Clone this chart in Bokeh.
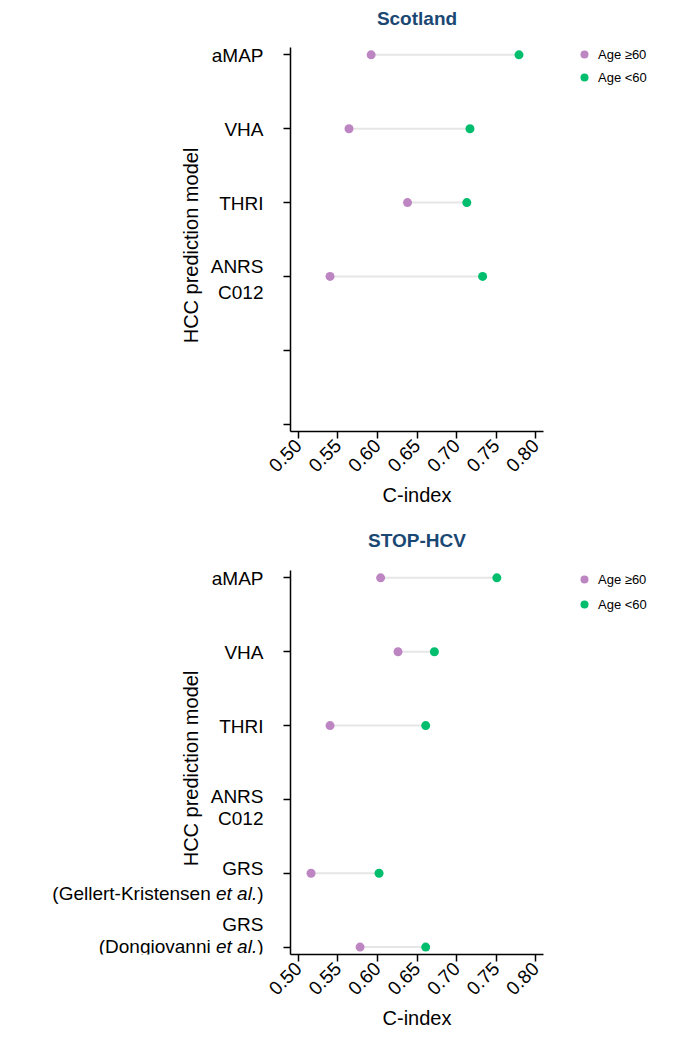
import math
from bokeh.plotting import figure
from bokeh.models import ColumnDataSource, Legend, LegendItem, FixedTicker, Range1d
from bokeh.layouts import column, row
from bokeh.embed import file_html
from bokeh.resources import INLINE

# ---------------- data ----------------
panel_titles = ["Scotland", "STOP-HCV"]

scot_models = ["aMAP", "VHA", "THRI", "ANRS\nC012", "", ""]
scot_age_ge60 = [0.592, 0.564, 0.638, 0.540, None, None]
scot_age_lt60 = [0.779, 0.717, 0.713, 0.733, None, None]

stop_models = ["aMAP", "VHA", "THRI", "ANRS\nC012",
               "GRS\n(Gellert-Kristensen et al.)", "GRS\n(Dongiovanni et al.)"]
stop_age_ge60 = [0.604, 0.626, 0.540, None, 0.516, 0.578]
stop_age_lt60 = [0.751, 0.672, 0.661, None, 0.602, 0.661]

x_ticks = [0.50, 0.55, 0.60, 0.65, 0.70, 0.75, 0.80]
x_tick_labels = ["0.50", "0.55", "0.60", "0.65", "0.70", "0.75", "0.80"]
legend_labels = ["Age \u226560", "Age <60"]
x_label = "C-index"
y_label = "HCC prediction model"

# ---------------- style / layout ----------------
FONT = "Liberation Sans"
PURPLE = "#BD86C3"
GREEN = "#00BE6E"
SEG = "#E6E6E6"
TITLE_COLOR = "#1A4873"
TICK_FS = 19
X0, X1 = 0.49, 0.81
PX_PER_CAT = 73.85          # vertical pixels per category step
WM_LEFT, FRAME_W, WM_RIGHT = 26, 253, 5
WL = 290 - WM_LEFT
WM = WM_LEFT + FRAME_W + WM_RIGHT
WR = 692 - WL - WM

CW = {")": 0.333, ".": 0.278, "e": 0.556, "t": 0.278, " ": 0.278, "a": 0.556, "l": 0.222}


def tw(s, size):
    return sum(CW.get(c, 0.556) for c in s) * size


def bare(width, height, x_range, y_range, bottom):
    p = figure(width=width, height=height, output_backend="svg", toolbar_location=None,
               title=None, x_axis_location=None, y_axis_location=None,
               x_range=x_range, y_range=y_range, min_border=0, min_border_bottom=bottom)
    p.outline_line_color = None
    p.xgrid.visible = False
    p.ygrid.visible = False
    return p


def make_row(title, labels, lo, hi, frame_h, bottom, line_dy, title_up, legend_top, legend_spacing):
    n = len(labels)
    y_lo, y_hi = -0.1, n - 1 + 0.1
    height = frame_h + bottom
    yr = Range1d(y_hi, y_hi - frame_h / PX_PER_CAT)   # frame reaches the top of the figure

    # ---- main plot ----
    m = figure(width=WM, height=height, output_backend="svg", toolbar_location=None,
               title=None, x_range=Range1d(X0, X1), y_range=yr, min_border=0,
               min_border_left=WM_LEFT, min_border_right=WM_RIGHT, min_border_bottom=bottom)
    m.outline_line_color = None
    m.xgrid.visible = False
    m.ygrid.visible = False
    rows = [i for i in range(n) if lo[i] is not None and hi[i] is not None]
    src = ColumnDataSource(dict(y=rows, lo=[lo[i] for i in rows], hi=[hi[i] for i in rows]))
    m.segment(x0="lo", y0="y", x1="hi", y1="y", source=src, line_color=SEG, line_width=2)
    m.scatter("lo", "y", source=src, size=9, fill_color=PURPLE, line_color=None)
    m.scatter("hi", "y", source=src, size=9, fill_color=GREEN, line_color=None)
    m.text(x=[(X0 + X1) / 2], y=[y_lo - title_up / PX_PER_CAT], text=[title],
           text_align="center", text_baseline="middle", text_font={"value": FONT},
           text_font_size="19px", text_font_style="bold", text_color=TITLE_COLOR)
    for ax in (m.xaxis[0], m.yaxis[0]):
        ax.axis_line_width = 1.5
        ax.axis_line_color = "black"
        ax.major_tick_line_width = 1.5
        ax.major_tick_line_color = "black"
        ax.major_tick_out = 7
        ax.major_tick_in = 0
        ax.minor_tick_out = 0
        ax.minor_tick_in = 0
        ax.major_label_text_font = FONT
        ax.major_label_text_font_size = f"{TICK_FS}px"
        ax.major_label_text_color = "black"
    m.xaxis.ticker = FixedTicker(ticks=x_ticks)
    m.xaxis.major_label_overrides = dict(zip(x_ticks, x_tick_labels))
    m.xaxis.major_label_orientation = math.pi / 4
    m.xaxis.major_label_standoff = 4
    m.xaxis.axis_label = x_label
    m.xaxis.axis_label_standoff = 3
    m.xaxis.axis_label_text_font = FONT
    m.xaxis.axis_label_text_font_size = "20px"
    m.xaxis.axis_label_text_font_style = "normal"
    m.xaxis.axis_label_text_color = "black"
    m.yaxis.ticker = FixedTicker(ticks=list(range(n)))
    m.yaxis.major_label_overrides = {i: "" for i in range(n)}
    m.yaxis.major_label_standoff = 0
    m.yaxis.bounds = (y_lo, y_hi)

    # ---- category labels + y-axis title (left strip) ----
    lf = bare(WL, height, Range1d(0, WL), yr, bottom)
    cols = dict(x=[], y=[], text=[], xo=[], style=[])
    for i, lab in enumerate(labels):
        if not lab:
            continue
        for j, line in enumerate(lab.split("\n")):
            ypos = i + line_dy[i][j] / PX_PER_CAT
            if "et al." in line:
                before, after = line.split("et al.")
                segs = [(before.rstrip(), "normal"), ("et al.", "italic"), (after, "normal")]
            else:
                segs = [(line, "normal")]
            shift = 0.0
            for k in range(len(segs) - 1, -1, -1):
                txt, style = segs[k]
                if txt:
                    cols["x"].append(WL - 1)
                    cols["y"].append(ypos)
                    cols["text"].append(txt)
                    cols["xo"].append(-shift)
                    cols["style"].append(style)
                shift += tw(txt, TICK_FS)
                if txt == "et al.":
                    shift += tw(" ", TICK_FS)
    lf.text(x="x", y="y", text="text", x_offset="xo", text_font_style="style",
            source=ColumnDataSource(cols), text_align="right", text_baseline="middle",
            text_font={"value": FONT}, text_font_size=f"{TICK_FS}px", text_color="black")
    lf.text(x=[190.7], y=[(y_lo + y_hi) / 2 + 6 / PX_PER_CAT], text=[y_label], angle=math.pi / 2,
            text_align="center", text_baseline="middle", text_font={"value": FONT},
            text_font_size="20px", text_color="black")

    # ---- legend strip: same series drawn against ranges that keep them out of view ----
    rf = bare(WR, height, Range1d(100, 100 + WR), Range1d(100, 100 + frame_h), bottom)
    g1 = rf.scatter("lo", "y", source=src, size=9, fill_color=PURPLE, line_color=None)
    g2 = rf.scatter("hi", "y", source=src, size=9, fill_color=GREEN, line_color=None)
    legend_h = 2 * 20 + legend_spacing
    legend = Legend(items=[LegendItem(label=legend_labels[0], renderers=[g1], index=0),
                           LegendItem(label=legend_labels[1], renderers=[g2], index=0)],
                    location=(584 - WL - WM - 10, frame_h - legend_top - legend_h))
    legend.glyph_width = 20
    legend.glyph_height = 20
    legend.label_height = 20
    legend.spacing = legend_spacing
    legend.padding = 0
    legend.margin = 0
    legend.label_standoff = 4
    legend.border_line_color = None
    legend.background_fill_alpha = 0
    legend.label_text_font = FONT
    legend.label_text_font_size = "13px"
    legend.label_text_color = "black"
    rf.add_layout(legend, "center")
    return row(lf, m, rf)


scot_dy = [[1], [1], [1], [-10, 16], [], []]
stop_dy = [[1], [1], [1], [-3, 19], [-5, 20], [-23, -1]]

# panel 1 occupies y 0..515 (frame 0..431); panel 2 occupies 515..1034 (frame 515..954)
r1 = make_row(panel_titles[0], scot_models, scot_age_ge60, scot_age_lt60,
              frame_h=431, bottom=84, line_dy=scot_dy, title_up=29,
              legend_top=44, legend_spacing=3)
r2 = make_row(panel_titles[1], stop_models, stop_age_ge60, stop_age_lt60,
              frame_h=439, bottom=80, line_dy=stop_dy, title_up=30,
              legend_top=54, legend_spacing=5)

layout = column(r1, r2)
open("out.html", "w").write(file_html(layout, INLINE))
